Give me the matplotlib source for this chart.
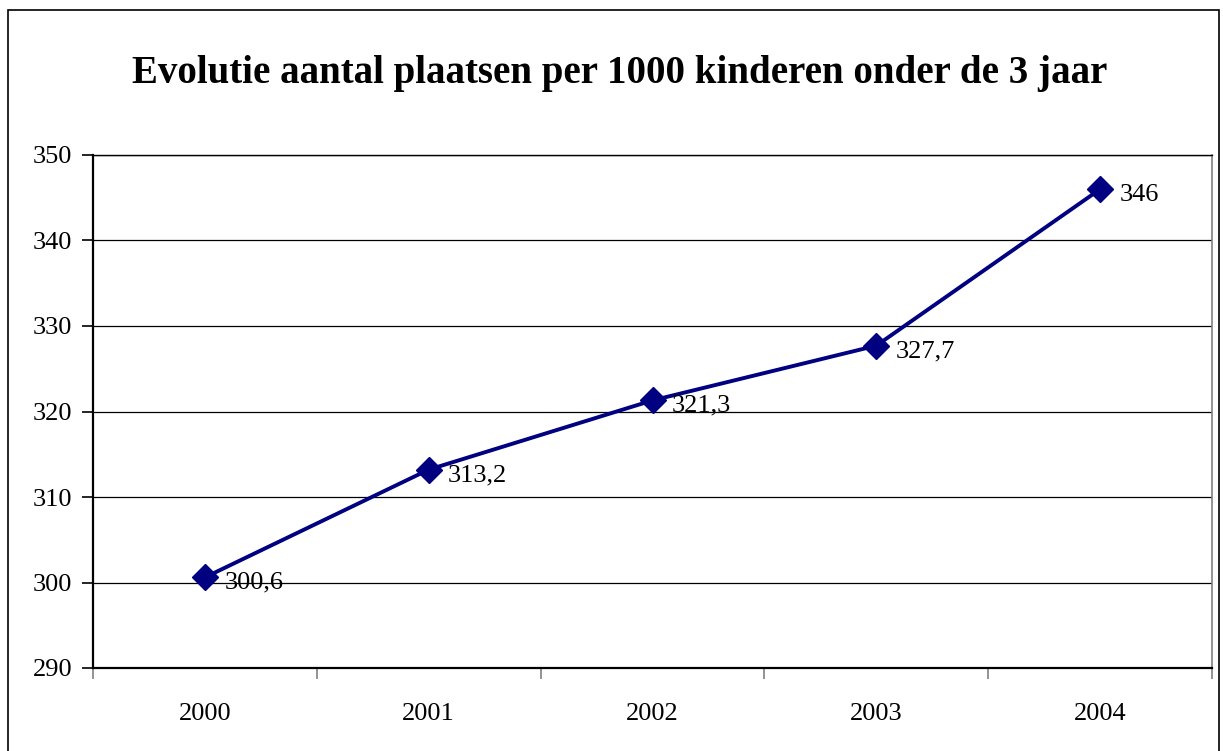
import matplotlib
matplotlib.use("Agg")
import matplotlib.pyplot as plt
from matplotlib.patches import Rectangle

years = ["2000", "2001", "2002", "2003", "2004"]
values = [300.6, 313.2, 321.3, 327.7, 346.0]
labels = ["300,6", "313,2", "321,3", "327,7", "346"]
yticks = [290, 300, 310, 320, 330, 340, 350]
title = "Evolutie aantal plaatsen per 1000 kinderen onder de 3 jaar"

plt.rcParams['font.family'] = ['Liberation Serif', 'DejaVu Serif']

W, H = 1223, 751
fig = plt.figure(figsize=(W / 100, H / 100), dpi=100)
fig.patch.set_facecolor('white')

# outer chart border
fig.add_artist(Rectangle((8 / W, -0.05), (1219 - 8) / W, 1 - 10 / H + 0.05,
                         transform=fig.transFigure, fill=False,
                         edgecolor='black', linewidth=1.2))

ax = fig.add_axes([93 / W, 1 - 668 / H, (1212 - 93) / W, (668 - 155) / H])

x = list(range(len(years)))
ax.plot(x, values, color='#000080', linewidth=2.8, marker='D',
        markersize=13, markerfacecolor='#000080', markeredgecolor='#000080',
        zorder=3, clip_on=False)
for xi, v, lab in zip(x, values, labels):
    ax.annotate(lab, (xi, v), xytext=(14, -4), textcoords='offset points',
                ha='left', va='center', fontsize=19, color='black', zorder=4)

ax.set_xlim(-0.5, len(years) - 0.5)
ax.set_ylim(290, 350)
ax.set_yticks(yticks)
ax.set_yticklabels([str(t) for t in yticks], fontsize=19)
ax.yaxis.grid(True, color='#000000', linewidth=0.9)
ax.set_axisbelow(True)

# category axis: ticks between categories, labels at centers
ax.set_xticks([i - 0.5 for i in range(len(years) + 1)])
ax.set_xticklabels([])
ax.set_xticks(x, minor=True)
ax.set_xticklabels(years, minor=True, fontsize=19)
ax.tick_params(axis='x', which='major', direction='out', length=8,
               width=1.2, color='#808080')
ax.tick_params(axis='x', which='minor', length=0, pad=25)
ax.tick_params(axis='y', direction='out', length=8, width=1.2, pad=7)

for side in ['left', 'bottom']:
    ax.spines[side].set_color('black')
    ax.spines[side].set_linewidth(1.6)
ax.spines['top'].set_color('black')
ax.spines['top'].set_linewidth(1.0)
ax.spines['right'].set_color('#808080')
ax.spines['right'].set_linewidth(1.2)

fig.text(620 / W, 1 - 83 / H, title, ha='center', va='baseline',
         fontsize=28, fontweight='bold')

fig.savefig('out.png', dpi=100)
